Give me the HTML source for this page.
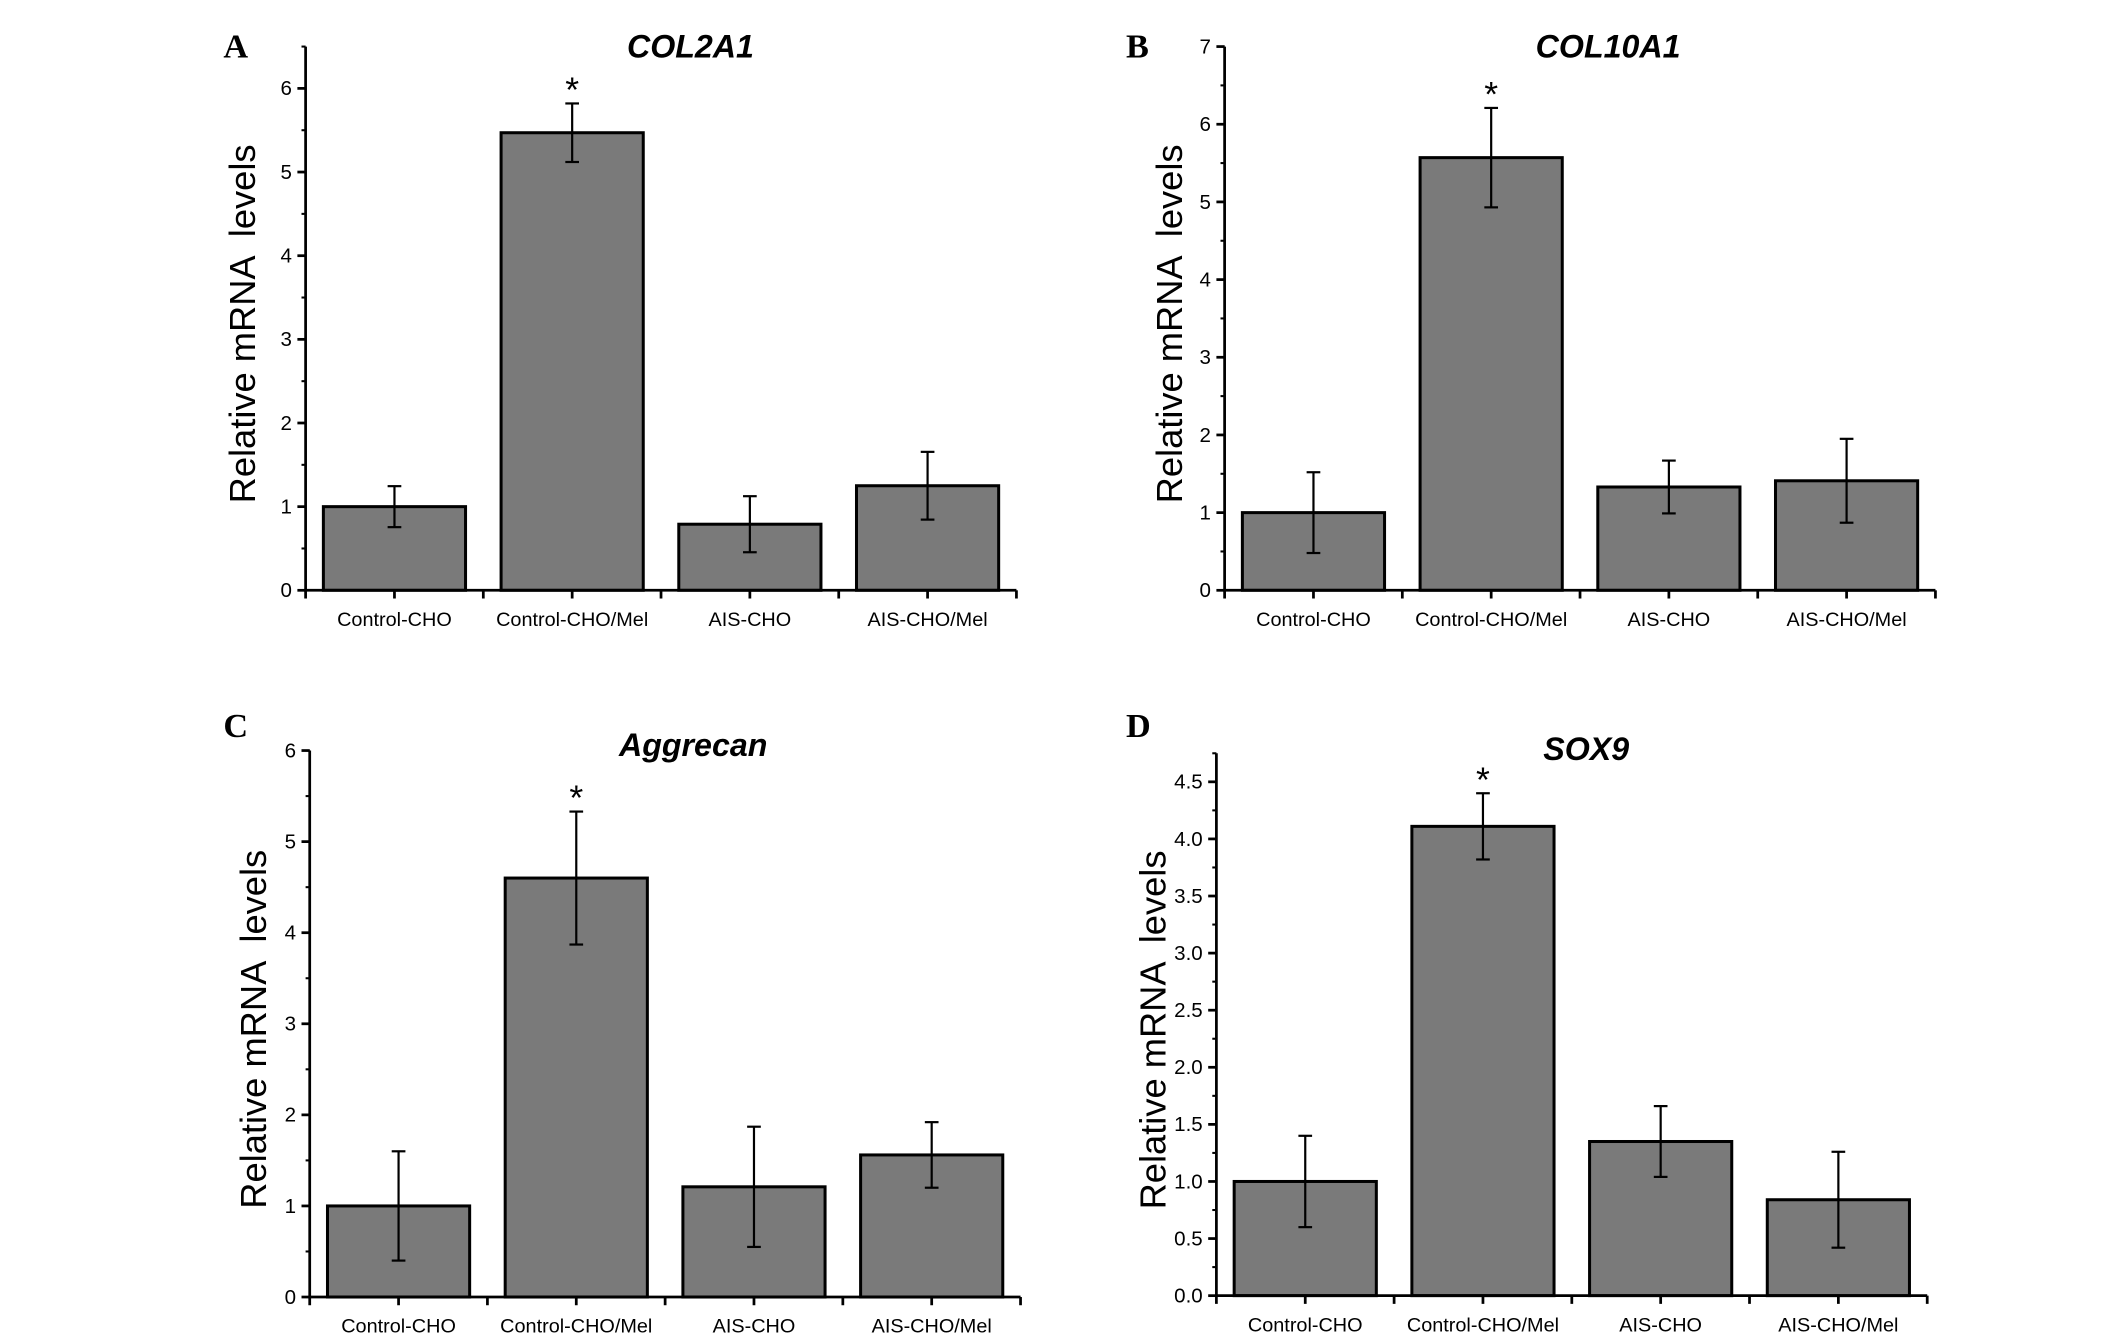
<!DOCTYPE html>
<html><head><meta charset="utf-8"><style>
html,body{margin:0;padding:0;background:#fff}
svg{display:block}
text{font-family:"Liberation Sans",Arial,sans-serif;fill:#000}
</style></head><body>
<svg id="fig" width="2126" height="1334" viewBox="0 0 1552 974" xmlns="http://www.w3.org/2000/svg"></svg>
<script>
const categories = ["Control-CHO","Control-CHO/Mel","AIS-CHO","AIS-CHO/Mel"];
const titlesList = ["COL2A1","COL10A1","Aggrecan","SOX9"];
const letters = ["A","B","C","D"];
const valuesA = [1.0, 5.47, 0.79, 1.25];
const errorsA = [0.245, 0.35, 0.335, 0.405];
const valuesB = [1.0, 5.57, 1.33, 1.41];
const errorsB = [0.52, 0.64, 0.34, 0.54];
const valuesC = [1.0, 4.6, 1.21, 1.56];
const errorsC = [0.6, 0.73, 0.66, 0.36];
const valuesD = [1.0, 4.11, 1.35, 0.84];
const errorsD = [0.4, 0.29, 0.31, 0.42];
const ticksA = [0,1,2,3,4,5,6];
const ticksB = [0,1,2,3,4,5,6,7];
const ticksC = [0,1,2,3,4,5,6];
const ticksD = [0,0.5,1,1.5,2,2.5,3,3.5,4,4.5];
const starIndex = [1,1,1,1];

const NS="http://www.w3.org/2000/svg";
const svg=document.getElementById('fig');
function mk(tag,attrs,parent){const e=document.createElementNS(NS,tag);for(const k in attrs)e.setAttribute(k,attrs[k]);(parent||svg).appendChild(e);return e;}

const layouts=[
 {x0:223,x1:742,y0:431,yTop:34,ymax:6.5,yLabX:186,letX:163,letY:42,titleX:504,titleY:42,minor:0.5,dec:0},
 {x0:894,x1:1413,y0:431,yTop:34,ymax:7,yLabX:863,letX:822,letY:42,titleX:1174,titleY:42,minor:0.5,dec:0},
 {x0:226,x1:745,y0:947,yTop:548,ymax:6,yLabX:194,letX:163,letY:538,titleX:506,titleY:552,minor:0.5,dec:0},
 {x0:888,x1:1407,y0:946,yTop:550,ymax:4.75,yLabX:851,letX:822,letY:538,titleX:1158,titleY:555,minor:0.25,dec:1}
];
const allVals=[valuesA,valuesB,valuesC,valuesD];
const allErr=[errorsA,errorsB,errorsC,errorsD];
const allTicks=[ticksA,ticksB,ticksC,ticksD];

layouts.forEach((L,p)=>{
  const g=mk('g',{});
  
  
  const yScale=v=>L.y0-(v/ L.ymax)*(L.y0-L.yTop);
  const step=(L.x1-L.x0)/categories.length;
  const xCenter=i=>L.x0+step*(i+0.5);
  const bw=step*0.8;
  allVals[p].forEach((v,i)=>{
    const r=mk('rect',{x:xCenter(i)-bw/2,y:yScale(v),width:bw,height:L.y0-yScale(v),fill:'#7a7a7a',stroke:'#000','stroke-width':2.2},g);
    
    
    const e=allErr[p][i];
    const eg=mk('g',{stroke:'#000','stroke-width':1.6},g);
    
    
    mk('line',{x1:xCenter(i),x2:xCenter(i),y1:yScale(v+e),y2:yScale(v-e)},eg);
    mk('line',{x1:xCenter(i)-5,x2:xCenter(i)+5,y1:yScale(v+e),y2:yScale(v+e)},eg);
    mk('line',{x1:xCenter(i)-5,x2:xCenter(i)+5,y1:yScale(v-e),y2:yScale(v-e)},eg);
    const lab=mk('text',{x:xCenter(i),y:L.y0+26,'text-anchor':'middle','font-size':14.5},g);
    lab.textContent=categories[i];
    
    
  });
  const si=starIndex[p];
  const st=mk('text',{x:xCenter(si),y:yScale(allVals[p][si]+allErr[p][si])-1,'text-anchor':'middle','font-size':26},g);
  st.textContent='*';
  
  
  const ax=mk('g',{stroke:'#000','stroke-width':2},g);
  
  
  mk('line',{x1:L.x0,x2:L.x0,y1:L.yTop,y2:L.y0+1},ax);
  mk('line',{x1:L.x0-1,x2:L.x1,y1:L.y0,y2:L.y0},ax);
  for(let k=0;k<=categories.length*2;k++){
    mk('line',{x1:L.x0+step*k/2,x2:L.x0+step*k/2,y1:L.y0,y2:L.y0+6},ax);
  }
  for(let v=0;v<=L.ymax+1e-6;v+=L.minor){
    mk('line',{x1:L.x0-3,x2:L.x0,y1:yScale(v),y2:yScale(v),'stroke-width':1.5},ax);
  }
  allTicks[p].forEach(t=>{
    mk('line',{x1:L.x0-6,x2:L.x0,y1:yScale(t),y2:yScale(t)},ax);
    const tl=mk('text',{x:L.x0-10,y:yScale(t)+5,'text-anchor':'end','font-size':15},g);
    tl.textContent=t.toFixed(L.dec);
    
    
  });
  const cy=(L.y0+L.yTop)/2+4;
  const yl=mk('text',{x:L.yLabX,y:cy,'text-anchor':'middle','font-size':26.5,transform:`rotate(-90 ${L.yLabX} ${cy})`},g);
  yl.textContent='Relative mRNA  levels';
  yl.style.whiteSpace='pre';
  
  
  const tt=mk('text',{x:L.titleX,y:L.titleY,'text-anchor':'middle','font-size':23.5,'font-weight':'bold','font-style':'italic'},g);
  tt.textContent=titlesList[p];
  
  
  const lt=mk('text',{x:L.letX,y:L.letY,'font-size':25,'font-weight':'bold',style:'font-family:"Liberation Serif",serif'},g);
  lt.textContent=letters[p];
  
  
});
</script>
</body></html>
